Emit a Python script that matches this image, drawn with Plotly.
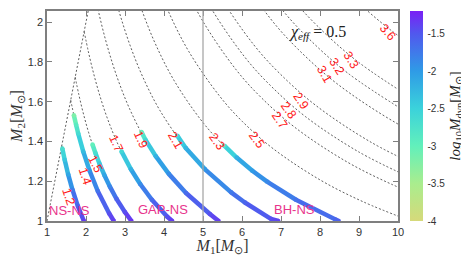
import plotly.graph_objects as go
from plotly.colors import sample_colorscale

# ---------------- data ----------------
# colour scale of log10 M_dyn
CMIN, CMAX = -4.0, -1.2
CSCALE = [[0.0, '#d6d97a'], [0.179, '#a9ed8e'], [0.357, '#62f0bb'],
          [0.536, '#3bd2db'], [0.714, '#2f9be6'], [0.893, '#5158ee'],
          [1.0, '#7a1ff5']]

# thick coloured curves (constant chirp mass), M1, M2, log10 Mdyn
t12_m1 = [1.393, 1.453, 1.543, 1.653, 1.791, 1.945]
t12_m2 = [1.365, 1.308, 1.234, 1.157, 1.075, 1.000]
t12_lm = [-2.7, -2.4, -2.1, -1.8, -1.55, -1.35]

t14_m1 = [1.689, 1.746, 1.800, 1.928, 2.090, 2.301, 2.595, 2.712]
t14_m2 = [1.532, 1.484, 1.440, 1.350, 1.254, 1.151, 1.038, 1.000]
t14_lm = [-3.2, -2.9, -2.65, -2.3, -2.0, -1.7, -1.45, -1.35]

t15_m1 = [2.167, 2.239, 2.344, 2.466, 2.609, 2.780, 2.990, 3.165]
t15_m2 = [1.385, 1.343, 1.289, 1.233, 1.174, 1.112, 1.047, 1.000]
t15_lm = [-3.0, -2.7, -2.4, -2.1, -1.85, -1.6, -1.45, -1.3]

t17_m1 = [2.910, 3.151, 3.389, 3.689, 4.084, 4.210]
t17_m2 = [1.350, 1.260, 1.186, 1.107, 1.021, 1.000]
t17_lm = [-2.6, -2.2, -1.9, -1.65, -1.45, -1.35]

t19_m1 = [3.423, 3.522, 3.788, 4.123, 4.564, 5.176, 5.400]
t19_m2 = [1.448, 1.409, 1.326, 1.237, 1.141, 1.035, 1.000]
t19_lm = [-3.0, -2.6, -2.2, -1.9, -1.65, -1.45, -1.35]

t21_m1 = [4.342, 4.557, 5.045, 5.721, 6.073, 6.741, 6.930]
t21_m2 = [1.429, 1.367, 1.261, 1.144, 1.093, 1.011, 1.000]
t21_lm = [-2.6, -2.25, -2.0, -1.75, -1.6, -1.45, -1.4]

t23_m1 = [5.547, 5.862, 6.265, 6.652, 7.383, 8.396, 8.480]
t23_m2 = [1.379, 1.319, 1.253, 1.197, 1.107, 1.008, 1.000]
t23_lm = [-2.8, -2.2, -2.0, -1.85, -1.7, -1.6, -1.55]

# dotted constant-chirp-mass guide lines
eq_m1 = [1.0, 2.06]
eq_m2 = [1.0, 2.06]
d12_m1 = [1.378, 1.453, 1.543, 1.653, 1.791, 1.973]
d12_m2 = [1.378, 1.308, 1.234, 1.157, 1.075, 0.986]
d14_m1 = [1.608, 1.696, 1.800, 1.928, 2.090, 2.301, 2.595, 3.038]
d14_m2 = [1.608, 1.526, 1.440, 1.350, 1.254, 1.151, 1.038, 0.911]
d15_m1 = [1.723, 1.817, 1.929, 2.066, 2.239, 2.466, 2.780, 3.255]
d15_m2 = [1.723, 1.635, 1.543, 1.446, 1.343, 1.233, 1.112, 0.977]
d17_m1 = [1.953, 2.059, 2.186, 2.341, 2.537, 2.794, 3.151, 3.689, 4.084, 4.631]
d17_m2 = [1.953, 1.853, 1.749, 1.639, 1.522, 1.397, 1.260, 1.107, 1.021, 0.926]
d19_m1 = [2.183, 2.301, 2.443, 2.617, 2.836, 3.123, 3.522, 4.123, 4.564, 5.176, 6.099]
d19_m2 = [2.183, 2.071, 1.954, 1.832, 1.702, 1.562, 1.409, 1.237, 1.141, 1.035, 0.915]
d21_m1 = [2.412, 2.544, 2.700, 2.892, 3.134, 3.452, 3.892, 4.557, 5.045, 5.721, 6.741, 7.666]
d21_m2 = [2.412, 2.289, 2.160, 2.025, 1.881, 1.726, 1.557, 1.367, 1.261, 1.144, 1.011, 0.920]
d23_m1 = [2.957, 3.168, 3.433, 3.781, 4.263, 4.991, 5.525, 6.265, 7.383, 8.396, 9.333]
d23_m2 = [2.366, 2.217, 2.060, 1.890, 1.705, 1.497, 1.381, 1.253, 1.107, 1.008, 0.933]
d25_m1 = [3.443, 3.732, 4.110, 4.634, 5.426, 6.006, 6.810, 8.025, 9.126, 10.144]
d25_m2 = [2.410, 2.239, 2.055, 1.853, 1.628, 1.501, 1.362, 1.204, 1.095, 1.014]
d27_m1 = [4.030, 4.438, 5.004, 5.860, 6.486, 7.355, 8.667, 9.856, 10.956]
d27_m2 = [2.418, 2.219, 2.002, 1.758, 1.622, 1.471, 1.300, 1.183, 1.096]
d28_m1 = [4.179, 4.603, 5.190, 6.077, 6.726, 7.627, 8.988, 10.221]
d28_m2 = [2.508, 2.301, 2.076, 1.823, 1.682, 1.525, 1.348, 1.227]
d29_m1 = [4.767, 5.375, 6.294, 6.966, 7.900, 9.309, 10.586]
d29_m2 = [2.384, 2.150, 1.888, 1.742, 1.580, 1.396, 1.270]
d31_m1 = [5.096, 5.746, 6.728, 7.447, 8.445, 9.951, 11.316]
d31_m2 = [2.548, 2.298, 2.018, 1.862, 1.689, 1.493, 1.358]
d32_m1 = [5.931, 6.945, 7.687, 8.717, 10.272]
d32_m2 = [2.373, 2.083, 1.922, 1.743, 1.541]
d33_m1 = [6.117, 7.162, 7.927, 8.990, 10.593]
d33_m2 = [2.447, 2.149, 1.982, 1.798, 1.589]
d36_m1 = [7.813, 8.648, 9.807, 11.556]
d36_m2 = [2.344, 2.162, 1.961, 1.733]

# red chirp-mass labels
lab_text = ["1.2", "1.4", "1.5", "1.7", "1.9", "2.1", "2.3", "2.5",
            "2.7", "2.8", "2.9", "3.1", "3.2", "3.3", "3.6"]
lab_x = [1.56, 1.98, 2.24, 2.77, 3.41, 4.29, 5.34, 6.38,
         6.96, 7.19, 7.51, 8.11, 8.42, 8.79, 9.73]
lab_y = [1.122, 1.228, 1.288, 1.394, 1.408, 1.408, 1.400, 1.408,
         1.508, 1.558, 1.603, 1.740, 1.778, 1.808, 1.950]
lab_ang = [72, 72, 62, 65, 66, 60, 54, 54, 55, 55, 56, 60, 58, 58, 48]

# region labels
reg_text = ["NS-NS", "GAP-NS", "BH-NS"]
reg_x = [1.585, 3.97, 7.34]
reg_y = [1.053, 1.058, 1.058]

X_RANGE = [1, 10]
Y_RANGE = [1, 2.056]
GAP_BH = 5

# ---------------- figure ----------------
fig = go.Figure()

dotted = [(eq_m1, eq_m2), (d12_m1, d12_m2), (d14_m1, d14_m2), (d15_m1, d15_m2),
          (d17_m1, d17_m2), (d19_m1, d19_m2), (d21_m1, d21_m2), (d23_m1, d23_m2),
          (d25_m1, d25_m2), (d27_m1, d27_m2), (d28_m1, d28_m2), (d29_m1, d29_m2),
          (d31_m1, d31_m2), (d32_m1, d32_m2), (d33_m1, d33_m2), (d36_m1, d36_m2)]
for xs, ys in dotted:
    fig.add_trace(go.Scatter(x=xs, y=ys, mode="lines",
                             line=dict(color="#333333", width=0.8, dash="2px,2px",
                                       shape="spline"),
                             hoverinfo="skip", showlegend=False))

thick = [(t12_m1, t12_m2, t12_lm), (t14_m1, t14_m2, t14_lm), (t15_m1, t15_m2, t15_lm),
         (t17_m1, t17_m2, t17_lm), (t19_m1, t19_m2, t19_lm), (t21_m1, t21_m2, t21_lm),
         (t23_m1, t23_m2, t23_lm)]


def norm(v):
    return min(1.0, max(0.0, (v - CMIN) / (CMAX - CMIN)))


for xs, ys, cs in thick:
    for i in range(len(xs) - 1):
        col = sample_colorscale(CSCALE, [norm((cs[i] + cs[i + 1]) / 2)])[0]
        fig.add_trace(go.Scatter(x=xs[i:i + 2], y=ys[i:i + 2], mode="lines",
                                 line=dict(color=col, width=4.5),
                                 hoverinfo="skip", showlegend=False))

all_x = [v for xs, _, _ in thick for v in xs]
all_y = [v for _, ys, _ in thick for v in ys]
all_c = [v for _, _, cs in thick for v in cs]
fig.add_trace(go.Scatter(
    x=all_x, y=all_y, mode="markers", showlegend=False, hoverinfo="skip",
    marker=dict(size=4.5, color=all_c, colorscale=CSCALE, cmin=CMIN, cmax=CMAX,
                line=dict(width=0),
                colorbar=dict(
                    x=1.034, xanchor="left", xpad=0, y=0.5, yanchor="middle",
                    ypad=0, len=1.0, thickness=13, outlinewidth=0,
                    tickvals=[-4, -3.5, -3, -2.5, -2, -1.5],
                    ticktext=["-4", "-3.5", "-3", "-2.5", "-2", "-1.5"],
                    ticks="outside", ticklen=3, tickcolor="rgba(0,0,0,0)",
                    tickfont=dict(family="Liberation Sans", size=10, color="#333333"),
                    title=dict(text="<i>log</i><sub>10</sub><i>M</i><sub>dyn</sub>[<i>M</i><sub>⊙</sub>]",
                               side="right",
                               font=dict(family="Liberation Serif", size=15, color="#222222"))))))

# vertical line at the mass gap boundary
fig.add_shape(type="line", xref="x", yref="paper", x0=GAP_BH, x1=GAP_BH, y0=0, y1=1,
              line=dict(color="#a8a8a8", width=1.3), layer="above")

for t, x, y, a in zip(lab_text, lab_x, lab_y, lab_ang):
    fig.add_annotation(x=x, y=y, text=t, showarrow=False, textangle=a,
                       font=dict(family="Liberation Sans", size=12.5, color="#ff1a1a"))

for t, x, y in zip(reg_text, reg_x, reg_y):
    fig.add_annotation(x=x, y=y, text=t, showarrow=False,
                       font=dict(family="Liberation Sans", size=13, color="#e8348c"))

fig.add_annotation(x=7.93, y=1.9475, text="<i>χ<sub>eff</sub></i> = 0.5", showarrow=False,
                   font=dict(family="Liberation Serif", size=16, color="#222222"))

axis_common = dict(showgrid=False, zeroline=False, showline=True, linecolor="#7f7f7f",
                   linewidth=1.5, mirror="ticks", ticks="inside", ticklen=5,
                   tickwidth=1.3, tickcolor="#7f7f7f", automargin=False,
                   tickfont=dict(family="Liberation Sans", size=11, color="#333333"))

fig.update_xaxes(range=X_RANGE, tickvals=[1, 2, 3, 4, 5, 6, 7, 8, 9, 10],
                 title=dict(text="<i>M</i><sub>1</sub>[<i>M</i><sub>⊙</sub>]",
                            font=dict(family="Liberation Serif", size=16, color="#333333"),
                            standoff=2),
                 **axis_common)
fig.update_yaxes(range=Y_RANGE, tickvals=[1, 1.2, 1.4, 1.6, 1.8, 2],
                 ticktext=["1", "1.2", "1.4", "1.6", "1.8", "2"],
                 title=dict(text="<i>M</i><sub>2</sub>[<i>M</i><sub>⊙</sub>]",
                            font=dict(family="Liberation Serif", size=16, color="#333333"),
                            standoff=4),
                 **axis_common)

# the page adds an 8px body margin, so the figure is sized to fit inside it
fig.update_layout(width=461, height=248,
                  margin=dict(l=39, r=71, t=3, b=35, autoexpand=False),
                  plot_bgcolor="white", paper_bgcolor="white", showlegend=False)

fig.write_html("out.html")
